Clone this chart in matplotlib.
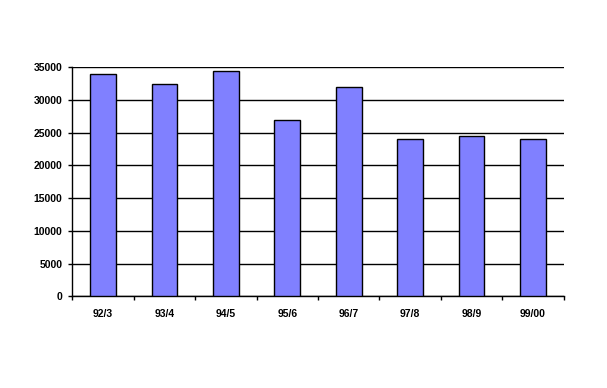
import numpy as np
import matplotlib.pyplot as plt

years = ['92/3', '93/4', '94/5', '95/6', '96/7', '97/8', '98/9', '99/00']
values = [34000, 32500, 34500, 27000, 32000, 24000, 24500, 24000]

plt.rcParams['font.family'] = ['Liberation Sans', 'DejaVu Sans']
plt.rcParams['font.weight'] = 'bold'

fig = plt.figure(figsize=(6.07, 3.88), dpi=100)
ax = fig.add_axes([0.1191, 0.2363, 0.8096, 0.5902])

x = np.arange(len(years))
ax.bar(x, values, width=0.42, color='#8080FF', edgecolor='black', linewidth=1.0, zorder=3)

ax.set_xlim(-0.5, len(years) - 0.5)
ax.set_ylim(0, 35000)
ax.set_yticks(np.arange(0, 35001, 5000))
ax.yaxis.grid(True, color='black', linewidth=1.0, zorder=0)
ax.set_axisbelow(True)

ax.set_xticks(x)
ax.set_xticklabels(years)
ax.set_xticks(np.arange(-0.5, len(years)), minor=True)
ax.tick_params(axis='x', which='major', length=0, pad=9, labelsize=7.5)
ax.tick_params(axis='x', which='minor', length=3, width=1, direction='out')
ax.tick_params(axis='y', length=3, width=1, pad=4, labelsize=7.5)

for s in ['top', 'right']:
    ax.spines[s].set_visible(False)
ax.spines['left'].set_linewidth(1.0)
ax.spines['bottom'].set_linewidth(1.0)

fig.savefig('out.png', dpi=100)
